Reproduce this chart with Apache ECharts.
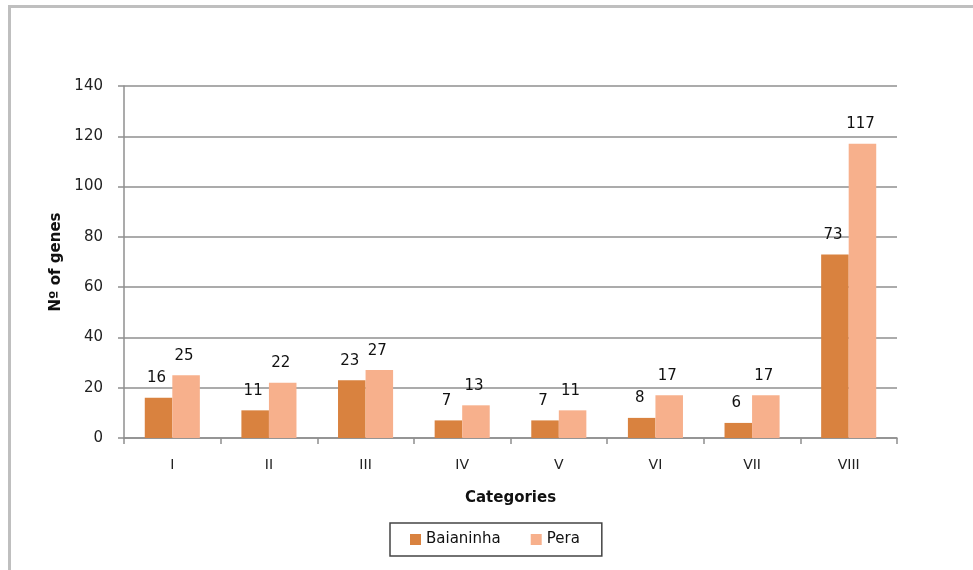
<!DOCTYPE html>
<html><head><meta charset="utf-8">
<script src="https://cdn.jsdelivr.net/npm/echarts@6/dist/echarts.min.js"></script>
<style>html,body{margin:0;padding:0;background:#fff}#c{width:973px;height:570px}</style>
</head><body><div id="c"></div>
<script>
const categories = ['I','II','III','IV','V','VI','VII','VIII'];
const baianinha = [16, 11, 23, 7, 7, 8, 6, 73];
const pera = [25, 22, 27, 13, 11, 17, 17, 117];
const yTicks = [0, 20, 40, 60, 80, 100, 120, 140];

const font = 'DejaVu Sans, Verdana, sans-serif';
const chart = echarts.init(document.getElementById('c'));
const lbl = {show:true, position:'top', distance:12, offset:[-2,0], color:'#111', fontSize:15, fontFamily:font};
chart.setOption({
  animation:false,
  graphic:[{type:'rect', shape:{x:9.5,y:6.5,width:1000,height:600}, style:{fill:null, stroke:'#bfbfbf', lineWidth:3}}],
  grid:{left:124, right:76, top:86, bottom:132, containLabel:false},
  legend:{
    bottom:14, left:390, itemWidth:11, itemHeight:11, itemGap:30, icon:'rect',
    padding:[9,22,9,20], borderColor:'#444', borderWidth:1.5,
    textStyle:{fontSize:15, fontFamily:font, color:'#111'},
    data:['Baianinha','Pera']
  },
  xAxis:{
    type:'category', data:categories,
    name:'Categories', nameLocation:'middle', nameGap:53,
    nameTextStyle:{fontWeight:'bold', fontSize:15, fontFamily:font, color:'#111'},
    axisLine:{lineStyle:{color:'#8f8f8f', width:1.5}},
    axisTick:{show:true, length:6, alignWithLabel:false, lineStyle:{color:'#8f8f8f', width:1.5}},
    axisLabel:{fontSize:14, fontFamily:font, color:'#222', margin:20}
  },
  yAxis:{
    type:'value', min:yTicks[0], max:yTicks[yTicks.length-1], interval:20,
    name:'Nº of genes', nameLocation:'middle', nameGap:60, nameRotate:90,
    nameTextStyle:{fontWeight:'bold', fontSize:15, fontFamily:font, color:'#111'},
    axisLine:{show:true, lineStyle:{color:'#8f8f8f', width:1.5}},
    axisTick:{show:true, length:6, lineStyle:{color:'#8f8f8f', width:1.5}},
    splitLine:{lineStyle:{color:'#8f8f8f', width:1.5}},
    axisLabel:{fontSize:15, fontFamily:font, color:'#222', margin:21}
  },
  series:[
    {name:'Baianinha', type:'bar', data:baianinha, barGap:'0%', barCategoryGap:'43%', itemStyle:{color:'#D9823F'}, label:lbl},
    {name:'Pera', type:'bar', data:pera, barGap:'0%', barCategoryGap:'43%', itemStyle:{color:'#F7B08C'}, label:lbl}
  ]
});
</script></body></html>
